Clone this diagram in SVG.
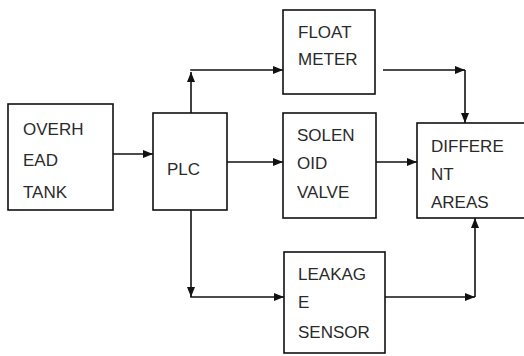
<svg xmlns="http://www.w3.org/2000/svg" width="524" height="356" viewBox="0 0 524 356">
<defs>
<marker id="ah" markerUnits="userSpaceOnUse" markerWidth="12" markerHeight="10" refX="10" refY="5" orient="auto">
<path d="M0,1 L10,5 L0,9 Z" fill="#111"/>
</marker>
<style>
.box{fill:#fff;stroke:#111;stroke-width:1.6}
.t{font-family:"Liberation Sans",Arial,sans-serif;font-size:17px;fill:#2a2a2a}
.c{fill:none;stroke:#111;stroke-width:1.6}
</style>
</defs>
<rect width="524" height="356" fill="#fff"/>
<g id="connectors">
<path class="c" d="M113,154 H153" marker-end="url(#ah)"/>
<path class="c" d="M191,113 V72" marker-end="url(#ah)"/>
<path class="c" d="M190.2,70 H283" marker-end="url(#ah)"/>
<path class="c" d="M227,162 H283" marker-end="url(#ah)"/>
<path class="c" d="M383,70 H465" marker-end="url(#ah)"/>
<path class="c" d="M465,70 V123" marker-end="url(#ah)"/>
<path class="c" d="M376,162 H417" marker-end="url(#ah)"/>
<path class="c" d="M191,210 V297" marker-end="url(#ah)"/>
<path class="c" d="M190.2,297 H284" marker-end="url(#ah)"/>
<path class="c" d="M385,297 H475" marker-end="url(#ah)"/>
<path class="c" d="M475,297 V218" marker-end="url(#ah)"/>
</g>
<g id="tank">
<rect class="box" x="8" y="104" width="105" height="106"/>
<text class="t" x="23" y="135">OVERH</text>
<text class="t" x="23" y="166">EAD</text>
<text class="t" x="23" y="198">TANK</text>
</g>
<g id="plc">
<rect class="box" x="153" y="113" width="74" height="97"/>
<text class="t" x="167" y="175">PLC</text>
</g>
<g id="float">
<rect class="box" x="283" y="10" width="92" height="84"/>
<text class="t" x="298" y="38">FLOAT</text>
<text class="t" x="298" y="65">METER</text>
</g>
<g id="solenoid">
<rect class="box" x="283" y="113" width="93" height="105"/>
<text class="t" x="297" y="141">SOLEN</text>
<text class="t" x="297" y="169">OID</text>
<text class="t" x="297" y="198">VALVE</text>
</g>
<g id="areas">
<rect class="box" x="417" y="123" width="110" height="95"/>
<text class="t" x="431" y="152">DIFFERE</text>
<text class="t" x="431" y="180">NT</text>
<text class="t" x="431" y="208">AREAS</text>
</g>
<g id="leakage">
<rect class="box" x="284" y="252" width="101" height="101"/>
<text class="t" x="298" y="280">LEAKAG</text>
<text class="t" x="298" y="308">E</text>
<text class="t" x="298" y="338">SENSOR</text>
</g>
</svg>
